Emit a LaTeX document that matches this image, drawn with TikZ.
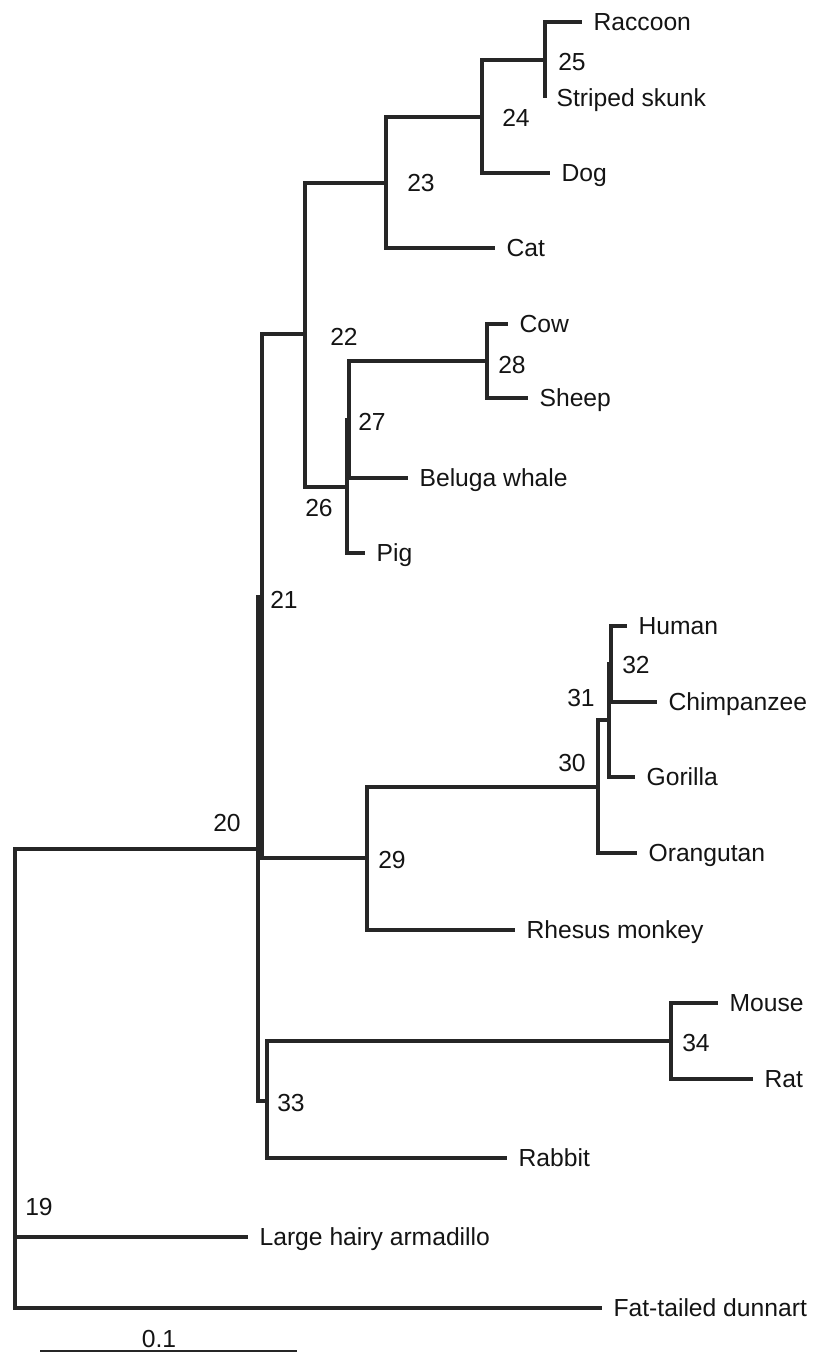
\documentclass[tikz,border=0pt]{standalone}
\usepackage{fontspec}
\setmainfont{Liberation Sans}
\usepackage{xcolor}
\usetikzlibrary{positioning, calc}
\definecolor{treeInk}{RGB}{38,38,38}
\definecolor{labelInk}{RGB}{20,20,20}
\tikzset{
    branch/.style={
        draw=treeInk,
        line width=2.5pt
    },
    leaf/.style={
        anchor=west,
        inner xsep=8.5pt,
        inner ysep=0pt,
        text height=13.3pt,
        text depth=0pt,
        text=labelInk,
        font=\fontsize{18.5}{20}\selectfont
    },
    nodenum/.style={
        anchor=west,
        inner sep=0pt,
        text height=13.3pt,
        text depth=0pt,
        text=labelInk,
        font=\fontsize{18.5}{20}\selectfont
    },
    scalebar/.style={draw=treeInk, line width=2.2pt}
}

\begin{document}
\begin{tikzpicture}[x=0.75pt, y=-0.75pt]
        \useasboundingbox (0,0) rectangle (816,1354);
        \coordinate (n19) at (15,1207);
        \coordinate (n20) at (258,849);
        \coordinate (n21) at (262,597);
        \coordinate (n22) at (305,334);
        \coordinate (n23) at (386,183);
        \coordinate (n24) at (482,117);
        \coordinate (n25) at (545,60);
        \coordinate (n26) at (347,487);
        \coordinate (n27) at (349,420);
        \coordinate (n28) at (487,361);
        \coordinate (n29) at (367,858);
        \coordinate (n30) at (598,787);
        \coordinate (n31) at (609,720);
        \coordinate (n32) at (611,664);
        \coordinate (n33) at (267,1101);
        \coordinate (n34) at (671,1041);
        \node[leaf] (raccoon) at (582,22) {Raccoon};
        \node[leaf] (skunk) at (545,98) {Striped skunk};
        \node[leaf] (dog) at (550,173) {Dog};
        \node[leaf] (cat) at (495,248) {Cat};
        \node[leaf] (cow) at (508,324) {Cow};
        \node[leaf] (sheep) at (528,398) {Sheep};
        \node[leaf] (beluga) at (408,478) {Beluga whale};
        \node[leaf] (pig) at (365,553) {Pig};
        \node[leaf] (human) at (627,626) {Human};
        \node[leaf] (chimp) at (657,702) {Chimpanzee};
        \node[leaf] (gorilla) at (635,777) {Gorilla};
        \node[leaf] (orangutan) at (637,853) {Orangutan};
        \node[leaf] (rhesus) at (515,930) {Rhesus monkey};
        \node[leaf] (mouse) at (718,1003) {Mouse};
        \node[leaf] (rat) at (753,1079) {Rat};
        \node[leaf] (rabbit) at (507,1158) {Rabbit};
        \node[leaf] (armadillo) at (248,1237) {Large hairy armadillo};
        \node[leaf] (dunnart) at (602,1308) {Fat-tailed dunnart};
        \node[nodenum] (lab19) at (25,1207) {19};
        \node[nodenum] (lab20) at (213,823) {20};
        \node[nodenum] (lab21) at (270,600) {21};
        \node[nodenum] (lab22) at (330,337) {22};
        \node[nodenum] (lab23) at (407,183) {23};
        \node[nodenum] (lab24) at (502,118) {24};
        \node[nodenum] (lab25) at (558,62) {25};
        \node[nodenum] (lab26) at (305,508) {26};
        \node[nodenum] (lab27) at (358,422) {27};
        \node[nodenum] (lab28) at (498,365) {28};
        \node[nodenum] (lab29) at (378,860) {29};
        \node[nodenum] (lab30) at (558,763) {30};
        \node[nodenum] (lab31) at (567,698) {31};
        \node[nodenum] (lab32) at (622,665) {32};
        \node[nodenum] (lab33) at (277,1103) {33};
        \node[nodenum] (lab34) at (682,1043) {34};
        \draw[branch] (n19) |- (n20);
        \draw[branch] (n19) |- (armadillo.west);
        \draw[branch] (n19) |- (dunnart.west);
        \draw[branch] (n20) |- (n21);
        \draw[branch] (n20) |- (n33);
        \draw[branch] (n21) |- (n22);
        \draw[branch] (n21) |- (n29);
        \draw[branch] (n22) |- (n23);
        \draw[branch] (n22) |- (n26);
        \draw[branch] (n23) |- (n24);
        \draw[branch] (n23) |- (cat.west);
        \draw[branch] (n24) |- (n25);
        \draw[branch] (n24) |- (dog.west);
        \draw[branch] (n25) |- (raccoon.west);
        \draw[branch] (n25) |- (skunk.west);
        \draw[branch] (n26) |- (n27);
        \draw[branch] (n26) |- (pig.west);
        \draw[branch] (n27) |- (n28);
        \draw[branch] (n27) |- (beluga.west);
        \draw[branch] (n28) |- (cow.west);
        \draw[branch] (n28) |- (sheep.west);
        \draw[branch] (n29) |- (n30);
        \draw[branch] (n29) |- (rhesus.west);
        \draw[branch] (n30) |- (n31);
        \draw[branch] (n30) |- (orangutan.west);
        \draw[branch] (n31) |- (n32);
        \draw[branch] (n31) |- (gorilla.west);
        \draw[branch] (n32) |- (human.west);
        \draw[branch] (n32) |- (chimp.west);
        \draw[branch] (n33) |- (n34);
        \draw[branch] (n33) |- (rabbit.west);
        \draw[branch] (n34) |- (mouse.west);
        \draw[branch] (n34) |- (rat.west);
        \coordinate (barL) at (40,1351);
        \coordinate (barR) at (297,1351);
        \draw[scalebar] (barL) -- (barR);
        \node[nodenum, anchor=center] (barlab) at (159,1339) {0.1};
    \end{tikzpicture}
\end{document}
